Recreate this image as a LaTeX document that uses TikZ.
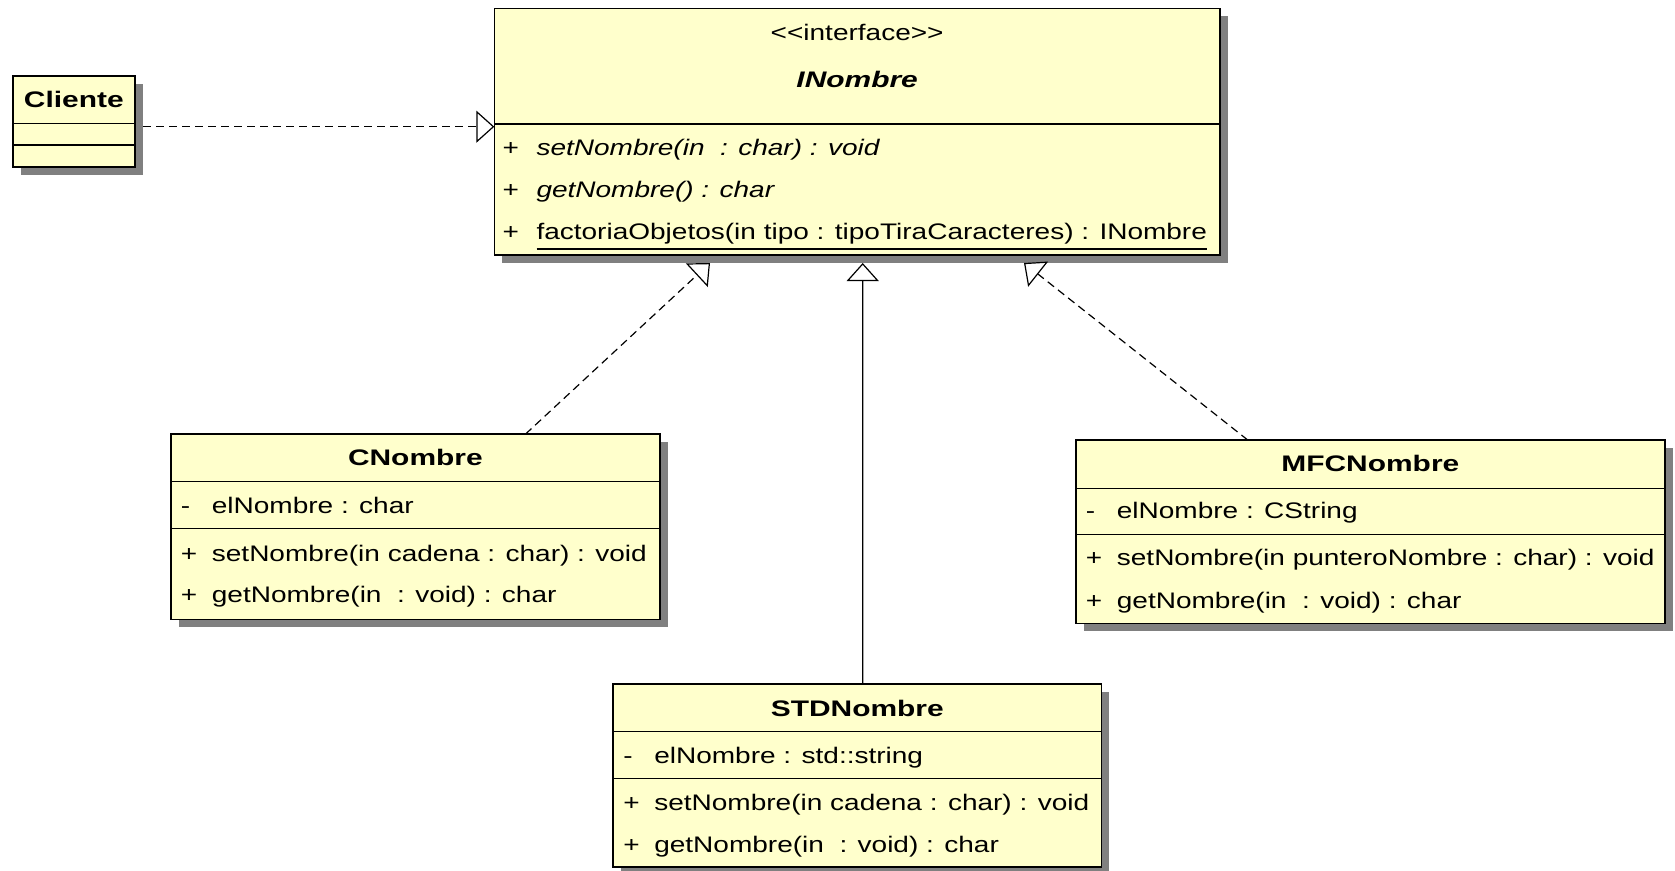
\documentclass[tikz,border=0pt]{standalone}
\usepackage{fontspec}
\newfontfamily\umlfont[FakeStretch=1.245]{Liberation Sans}
\newfontfamily\umlnamefont[FakeStretch=1.33]{Liberation Sans}
\usetikzlibrary{arrows.meta,shadows,calc}
\definecolor{umlfill}{RGB}{255,255,204}
\definecolor{umlshadow}{RGB}{128,128,128}
\newcommand{\umlul}[1]{\leavevmode\setbox0=\hbox{#1}\rlap{\rule[-10.5pt]{\wd0}{1.4pt}}\box0}
\newcommand{\umlsign}[2][31pt]{\makebox[#1][l]{#2}}
\begin{document}
\begin{tikzpicture}[x=1pt,y=-1pt,
  cls/.style={draw=black, line width=1.6pt, fill=umlfill, inner sep=0pt, outer sep=0pt, anchor=north west,
    drop shadow={shadow xshift=8pt, shadow yshift=-8pt, fill=umlshadow, opacity=1}},
  divl/.style={draw=black, line width=1.5pt},
  row/.style={anchor=base west, inner sep=0pt, font=\umlfont\fontsize{22.5}{27}\selectfont},
  cname/.style={anchor=base, inner sep=0pt, font=\umlnamefont\bfseries\fontsize{22.5}{27}\selectfont},
  conn/.style={draw=black, line width=1.2pt, -{Triangle[length=18pt,width=32pt,fill=white]}},
  realize/.style={conn, dash pattern=on 8pt off 5pt},
]
\useasboundingbox (0,0) rectangle (1675,870);

% class boxes
\node[cls, minimum width=122.3pt, minimum height=91pt] (cliente) at (12.7,76) {};
\node[cls, minimum width=725.7pt, minimum height=246.7pt] (inombre) at (494.3,8.3) {};
\node[cls, minimum width=489.3pt, minimum height=185.3pt] (cnombre) at (170.7,434) {};
\node[cls, minimum width=589.3pt, minimum height=183.3pt] (mfcnombre) at (1075.7,440) {};
\node[cls, minimum width=488.3pt, minimum height=183pt] (stdnombre) at (613.1,684) {};

% compartment dividers
\draw[divl] ($(cliente.north west)+(0,47.3)$) -- ($(cliente.north east)+(0,47.3)$);
\draw[divl] ($(cliente.north west)+(0,69)$) -- ($(cliente.north east)+(0,69)$);
\draw[divl] ($(inombre.north west)+(0,115.7)$) -- ($(inombre.north east)+(0,115.7)$);
\draw[divl] ($(cnombre.north west)+(0,47.7)$) -- ($(cnombre.north east)+(0,47.7)$);
\draw[divl] ($(cnombre.north west)+(0,94.3)$) -- ($(cnombre.north east)+(0,94.3)$);
\draw[divl] ($(mfcnombre.north west)+(0,48.3)$) -- ($(mfcnombre.north east)+(0,48.3)$);
\draw[divl] ($(mfcnombre.north west)+(0,94.3)$) -- ($(mfcnombre.north east)+(0,94.3)$);
\draw[divl] ($(stdnombre.north west)+(0,47.4)$) -- ($(stdnombre.north east)+(0,47.4)$);
\draw[divl] ($(stdnombre.north west)+(0,94.5)$) -- ($(stdnombre.north east)+(0,94.5)$);

% connectors
\draw[realize] ($(cliente.north east)+(8,50.7)$) -- ($(inombre.north west)+(0,118.4)$);
\draw[realize] ($(cnombre.north west)+(354.9,0)$) -- ($(inombre.south west)+(215.7,8)$);
\draw[realize] ($(mfcnombre.north west)+(172,0)$) -- ($(inombre.south west)+(529.7,8)$);
\draw[conn] ($(stdnombre.north west)+(249.6,0)$) -- ($(inombre.south west)+(368.4,8)$);

% texts
\node[cname] (cliente-name) at ($(cliente.north)+(0,31)$) {Cliente};

\node[row, anchor=base] (inombre-st) at ($(inombre.north)+(0,32)$) {<{}<interface>{}>};
\node[cname] (inombre-name) at ($(inombre.north)+(0,78.7)$) {\itshape INombre};
\node[row] (inombre-m1) at ($(inombre.north west)+(8,147)$) {\umlsign[34pt]{+}\itshape setNombre(in~ : char) : void};
\node[row] (inombre-m2) at ($(inombre.north west)+(8,189)$) {\umlsign[34pt]{+}\itshape getNombre() : char};
\node[row] (inombre-m3) at ($(inombre.north west)+(8,231)$) {\umlsign[34pt]{+}\umlul{factoriaObjetos(in tipo : tipoTiraCaracteres) : INombre}};

\node[cname] (cnombre-name) at ($(cnombre.north)+(0,31)$) {CNombre};
\node[row] (cnombre-a1) at ($(cnombre.north west)+(10,79)$) {\umlsign{-}elNombre : char};
\node[row] (cnombre-m1) at ($(cnombre.north west)+(10,127)$) {\umlsign{+}setNombre(in cadena : char) : void};
\node[row] (cnombre-m2) at ($(cnombre.north west)+(10,168.5)$) {\umlsign{+}getNombre(in~ : void) : char};

\node[cname] (mfcnombre-name) at ($(mfcnombre.north)+(0,31)$) {MFCNombre};
\node[row] (mfcnombre-a1) at ($(mfcnombre.north west)+(10,78.3)$) {\umlsign{-}elNombre : CString};
\node[row] (mfcnombre-m1) at ($(mfcnombre.north west)+(10,125.2)$) {\umlsign{+}setNombre(in punteroNombre : char) : void};
\node[row] (mfcnombre-m2) at ($(mfcnombre.north west)+(10,168.3)$) {\umlsign{+}getNombre(in~ : void) : char};

\node[cname] (stdnombre-name) at ($(stdnombre.north)+(0,32)$) {STDNombre};
\node[row] (stdnombre-a1) at ($(stdnombre.north west)+(10,79.7)$) {\umlsign{-}elNombre : std::string};
\node[row] (stdnombre-m1) at ($(stdnombre.north west)+(10,126.4)$) {\umlsign{+}setNombre(in cadena : char) : void};
\node[row] (stdnombre-m2) at ($(stdnombre.north west)+(10,168.5)$) {\umlsign{+}getNombre(in~ : void) : char};
\end{tikzpicture}
\end{document}
